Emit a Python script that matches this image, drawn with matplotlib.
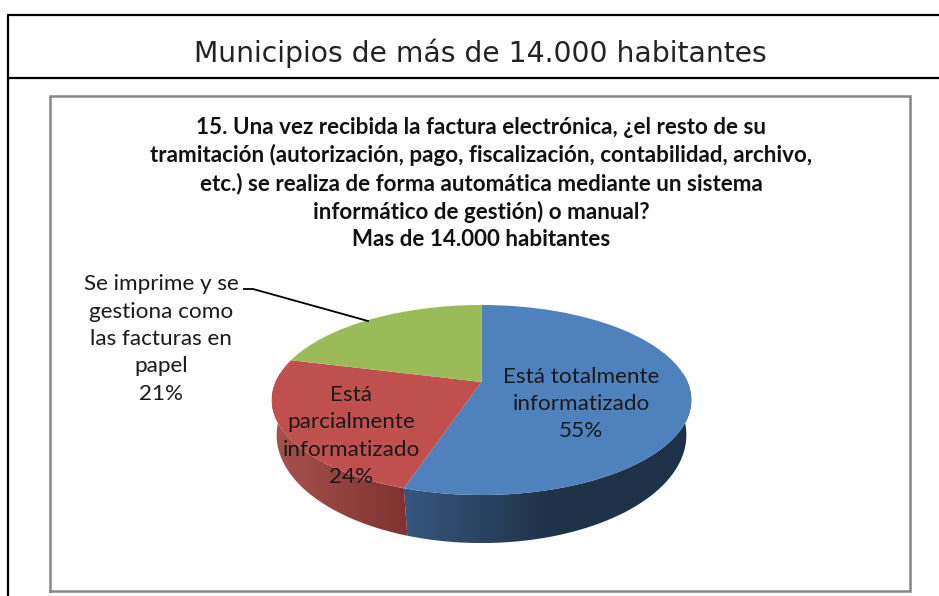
import numpy as np
import matplotlib
matplotlib.use("Agg")
import matplotlib.pyplot as plt
from matplotlib.path import Path
from matplotlib.patches import PathPatch
from matplotlib.transforms import Transform
from matplotlib.colors import LinearSegmentedColormap

# ---- data ----
header = "Municipios de más de 14.000 habitantes"
title_lines = [
    "15. Una vez recibida la factura electrónica, ¿el resto de su",
    "tramitación (autorización, pago, fiscalización, contabilidad, archivo,",
    "etc.) se realiza de forma automática mediante un sistema",
    "informático de gestión) o manual?",
    "Mas de 14.000 habitantes",
]
categories = ["Está totalmente\ninformatizado", "Está\nparcialmente\ninformatizado",
              "Se imprime y se\ngestiona como\nlas facturas en\npapel"]
values = [55, 24, 21]
colors = ["#4f81bd", "#c0504d", "#9bbb59"]
wall_ramps = [["#37577f", "#1f3349", "#1d3148"], ["#a8524e", "#7f3230"], ["#7a9446", "#7a9446"]]

W, H = 939, 596
fig = plt.figure(figsize=(W / 100, H / 100), dpi=100, facecolor="white")
ax = fig.add_axes([0, 0, 1, 1])


class Tilt(Transform):
    """Maps the unit-circle pie onto a tilted disc, in pixel coordinates."""
    input_dims = output_dims = 2

    def __init__(self, cx, cy, a, b, k):
        super().__init__()
        self.p = (cx, cy, a, b, k)

    def transform_non_affine(self, xy):
        xy = np.asarray(xy, float)
        cx, cy, a, b, k = self.p
        w = 1 + k * xy[:, 1]
        return np.column_stack([cx + a * xy[:, 0] / w, cy - b * xy[:, 1] / w])

    def transform_path_non_affine(self, path):
        p = path.interpolated(1)
        return Path(self.transform_non_affine(p.vertices), p.codes)


top_face = Tilt(481.5, 382, 206, 91.6, 0.1895)
bottom_face = Tilt(481.5, 417, 202, 105, 0.167)

wedges, _ = ax.pie(values, colors=colors, startangle=90, counterclock=False,
                   radius=1, center=(0, 0), wedgeprops=dict(linewidth=0, zorder=5))

ax.set_aspect("auto")
ax.set_xlim(0, W)
ax.set_ylim(H, 0)
ax.axis("off")

for w in wedges:
    w.set_transform(top_face + ax.transData)

# side wall of the disc, one gradient per slice
for w, ramp in zip(wedges, wall_ramps):
    a1, a2 = sorted((w.theta1, w.theta2))
    t = np.radians(np.linspace(a1, a2, 400))
    # only the front part of each slice shows a wall
    t = t[np.sin(t) < 0.1]
    if t.size < 2:
        continue
    unit = np.column_stack([np.cos(t), np.sin(t)])
    up = top_face.transform_non_affine(unit)
    lo = bottom_face.transform_non_affine(unit)
    poly = np.vstack([up, lo[::-1], up[:1]])
    patch = PathPatch(Path(poly), facecolor="none", edgecolor="none", transform=ax.transData)
    ax.add_patch(patch)
    x0, x1 = poly[:, 0].min(), poly[:, 0].max()
    y0, y1 = poly[:, 1].min(), poly[:, 1].max()
    cmap = LinearSegmentedColormap.from_list("wall", ramp)
    im = ax.imshow(np.linspace(0, 1, 256)[None, :], cmap=cmap, extent=(x0, x1, y1, y0),
                   aspect="auto", zorder=3, interpolation="bilinear")
    im.set_clip_path(patch)

ax.set_xlim(0, W)
ax.set_ylim(H, 0)

# page frame
black = "#000000"
ax.plot([8, 8], [596, 14.5], color=black, lw=1.6, solid_capstyle="butt", zorder=1)
ax.plot([7, 939], [14.5, 14.5], color=black, lw=1.6, solid_capstyle="butt", zorder=1)
ax.plot([7, 939], [78, 78], color=black, lw=1.6, solid_capstyle="butt", zorder=1)

# chart frame
ax.plot([50, 50, 910, 910, 50], [591, 95.5, 95.5, 591, 591], color="#868686", lw=1.8,
        solid_joinstyle="miter", zorder=1)

ax.text(480, 53, header, ha="center", va="center", fontsize=20.3, family="DejaVu Sans",
        color="#222222", zorder=6)

for line, y in zip(title_lines, [127, 155, 184, 212, 240]):
    ax.text(481, y, line, ha="center", va="center", fontsize=16.1, family="Lato",
            weight="bold", color="#111111", zorder=6)

label_font = dict(ha="center", va="center", fontsize=16.2, family="Lato", color="#1a1a1a",
                  zorder=7, linespacing=1.46)
ax.text(581, 404, f"{categories[0]}\n{values[0]}%", **label_font)
ax.text(351, 436, f"{categories[1]}\n{values[1]}%", **label_font)
ax.text(161, 339, f"{categories[2]}\n{values[2]}%", **label_font)

# leader line
ax.plot([244, 253, 368], [289, 289, 321], color="#000000", lw=1.3, zorder=7)

fig.savefig("out.png", dpi=100, facecolor="white")
